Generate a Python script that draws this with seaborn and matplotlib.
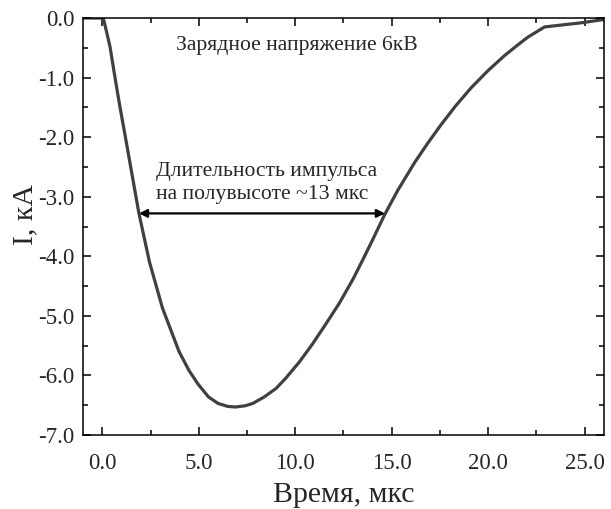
import matplotlib
matplotlib.use("Agg")
import matplotlib.pyplot as plt
from matplotlib.ticker import MultipleLocator
import seaborn as sns
import pandas as pd

# Data
time_us = [-1.0, 0.05, 0.20, 0.40, 0.66, 0.92, 1.20, 1.50, 1.90, 2.45, 3.12, 3.98, 4.50,
           4.95, 5.50, 6.00, 6.50, 6.90, 7.40, 7.80, 8.40, 9.00, 9.50, 10.20, 10.90,
           11.60, 12.30, 13.00, 13.50, 14.00, 14.62, 15.30, 16.18, 16.87, 17.56, 18.30,
           19.12, 20.00, 20.85, 21.50, 22.06, 22.92, 24.00, 24.83, 26.10]
current_kA = [0.0, 0.0, -0.20, -0.48, -1.00, -1.50, -2.00, -2.55, -3.28, -4.10, -4.87, -5.60,
              -5.92, -6.14, -6.36, -6.47, -6.52, -6.53, -6.51, -6.47, -6.36, -6.22, -6.05,
              -5.78, -5.47, -5.13, -4.78, -4.38, -4.06, -3.73, -3.31, -2.90, -2.43, -2.10,
              -1.79, -1.48, -1.17, -0.88, -0.63, -0.46, -0.32, -0.15, -0.11, -0.08, -0.02]

xticks = [0.0, 5.0, 10.0, 15.0, 20.0, 25.0]
xtick_labels = ["0.0", "5.0", "10.0", "15.0", "20.0", "25.0"]
yticks = [0.0, -1.0, -2.0, -3.0, -4.0, -5.0, -6.0, -7.0]
ytick_labels = ["0.0", "-1.0", "-2.0", "-3.0", "-4.0", "-5.0", "-6.0", "-7.0"]

fwhm_start, fwhm_end, fwhm_level = 1.9, 14.65, -3.28

df = pd.DataFrame({"t": time_us, "I": current_kA})

sns.set_style("ticks")
plt.rcParams["font.family"] = ["Liberation Serif", "DejaVu Serif"]

fig = plt.figure(figsize=(6.11, 5.09), dpi=100)
ax = fig.add_axes([0.1358, 0.1454, 0.9885 - 0.1358, 0.9646 - 0.1454])

sns.lineplot(data=df, x="t", y="I", ax=ax, color="#404040", linewidth=2.3,
             estimator=None, sort=False)

ax.set_xlim(-1, 26)
ax.set_ylim(-7, 0)
ax.set_xticks(xticks)
ax.set_xticklabels(xtick_labels)
ax.set_yticks(yticks)
ax.set_yticklabels(ytick_labels)
ax.xaxis.set_minor_locator(MultipleLocator(2.5))
ax.yaxis.set_minor_locator(MultipleLocator(0.5))
ax.tick_params(which="both", direction="in", top=True, right=True, width=1.1, color="black")
ax.tick_params(which="major", length=6, labelsize=16.5)
ax.tick_params(axis="x", which="major", pad=13)
ax.tick_params(axis="y", which="major", pad=6)
ax.tick_params(which="minor", length=3.5)
for s in ax.spines.values():
    s.set_visible(True)
    s.set_linewidth(1.1)
    s.set_color("black")

ax.set_xlabel("Время, мкс", fontsize=21.5, labelpad=6)
ax.set_ylabel("I, кА", fontsize=21.5)
ax.yaxis.set_label_coords(-0.086, 0.528)

ax.text(10.09, -0.46, "Зарядное напряжение 6кВ", fontsize=15.6, ha="center", va="center")
ax.text(2.77, -2.77, "Длительность импульса\nна полувысоте ~13 мкс", fontsize=15.6,
        ha="left", va="center", linespacing=1.25)
ax.annotate("", xy=(fwhm_start, fwhm_level), xytext=(fwhm_end, fwhm_level),
            arrowprops=dict(arrowstyle="<|-|>", color="black", lw=1.6,
                            mutation_scale=12, shrinkA=0, shrinkB=0))

fig.savefig("out.png", dpi=100)
